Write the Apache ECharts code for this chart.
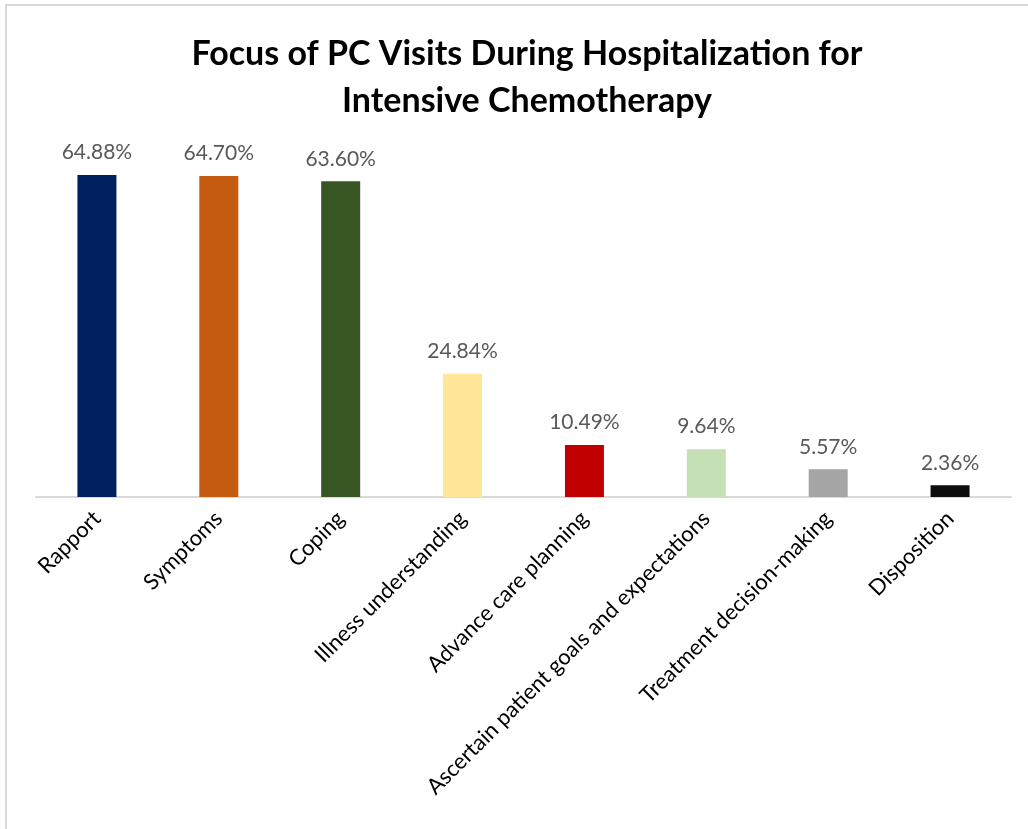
<!DOCTYPE html>
<html>
<head>
<meta charset="utf-8">
<script src="https://cdn.jsdelivr.net/npm/echarts@6/dist/echarts.min.js"></script>
<style>
html,body{margin:0;padding:0;background:#fff;}
#chart{width:1028px;height:829px;}
</style>
</head>
<body>
<div id="chart"></div>
<script>
const categories = ["Rapport","Symptoms","Coping","Illness understanding","Advance care planning","Ascertain patient goals and expectations","Treatment decision-making","Disposition"];
const values = [64.88, 64.70, 63.60, 24.84, 10.49, 9.64, 5.57, 2.36];
const barColors = ["#002060","#C55A11","#375623","#FFE699","#C00000","#C5E0B4","#A5A5A5","#0D0D0D"];
const titleLines = "Focus of PC Visits During Hospitalization for\nIntensive Chemotherapy";

const chart = echarts.init(document.getElementById('chart'));
chart.setOption({
  backgroundColor: '#fff',
  animation: false,
  title: {
    text: titleLines,
    left: 522, top: 26, textAlign: 'center',
    textStyle: { fontFamily: 'Lato', fontWeight: 'bold', fontSize: 34, color: '#000', lineHeight: 47 }
  },
  graphic: [
    { type: 'rect', shape: { x: 6, y: 5, width: 1100, height: 900 }, style: { fill: 'none', stroke: '#d9d9d9', lineWidth: 2 }, silent: true }
  ],
  grid: { left: 36, right: 17, top: 149.6, bottom: 332, containLabel: false },
  xAxis: {
    type: 'category', data: categories,
    axisLine: { show: true, lineStyle: { color: '#d9d9d9', width: 2 } },
    axisTick: { show: false },
    axisLabel: { rotate: 45, interval: 0, fontFamily: 'Lato', fontSize: 22, color: '#000', margin: 18 }
  },
  yAxis: { type: 'value', min: 0, max: 70, show: false, splitLine: { show: false } },
  series: [{
    type: 'bar', barWidth: '32%',
    data: values.map((v, i) => ({ value: v, itemStyle: { color: barColors[i] } })),
    label: { show: true, position: 'top', distance: 12, formatter: p => p.value.toFixed(2) + '%', fontFamily: 'Lato', fontSize: 21, color: '#595959' }
  }]
});
</script>
</body>
</html>
